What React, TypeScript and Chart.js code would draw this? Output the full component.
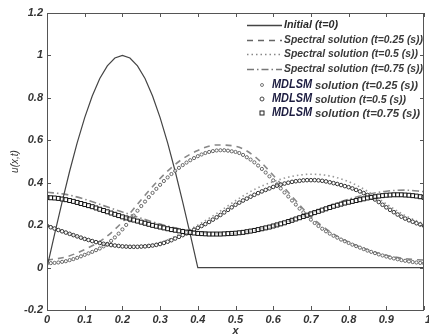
import React, { useEffect, useRef } from "react";
import { Chart, registerables } from "chart.js";

Chart.register(...registerables);

// Sampling grid for the MDLSM markers (x = 0 .. 1, step 0.01)
const xGrid: number[] = Array.from({ length: 101 }, (_, i) => i / 100);
// Grid for spectral curves (step 0.05)
const xCoarse: number[] = Array.from({ length: 21 }, (_, i) => i / 20);

const initialX = [0, 0.02, 0.04, 0.06, 0.08, 0.1, 0.12, 0.14, 0.16, 0.18, 0.2, 0.22, 0.24, 0.26, 0.28, 0.3, 0.32, 0.34, 0.36, 0.38, 0.4, 1.0];
const initialU = [0, 0.156, 0.309, 0.454, 0.588, 0.707, 0.809, 0.891, 0.951, 0.988, 1, 0.988, 0.951, 0.891, 0.809, 0.707, 0.588, 0.454, 0.309, 0.156, 0, 0];

const spectral025 = [0.035, 0.05, 0.085, 0.135, 0.215, 0.32, 0.42, 0.5, 0.552, 0.578, 0.572, 0.525, 0.435, 0.335, 0.24, 0.17, 0.12, 0.085, 0.058, 0.042, 0.035];
const spectral05 = [0.2, 0.165, 0.135, 0.112, 0.102, 0.102, 0.118, 0.155, 0.2, 0.255, 0.315, 0.368, 0.405, 0.43, 0.44, 0.432, 0.405, 0.36, 0.3, 0.245, 0.205];
const spectral075 = [0.355, 0.345, 0.322, 0.292, 0.262, 0.232, 0.205, 0.183, 0.168, 0.16, 0.162, 0.175, 0.196, 0.225, 0.258, 0.292, 0.322, 0.345, 0.36, 0.365, 0.358];

const mdlsm025 = [
  0.02, 0.021, 0.022, 0.024, 0.027, 0.03, 0.035, 0.04, 0.046, 0.053,
  0.06, 0.067, 0.074, 0.082, 0.09, 0.1, 0.112, 0.126, 0.142, 0.16,
  0.18, 0.201, 0.223, 0.245, 0.268, 0.29, 0.311, 0.332, 0.352, 0.371,
  0.39, 0.408, 0.425, 0.441, 0.456, 0.47, 0.483, 0.495, 0.506, 0.516,
  0.525, 0.533, 0.54, 0.545, 0.549, 0.552, 0.553, 0.553, 0.551, 0.548,
  0.545, 0.54, 0.531, 0.52, 0.509, 0.496, 0.481, 0.465, 0.448, 0.43,
  0.411, 0.392, 0.373, 0.354, 0.335, 0.316, 0.297, 0.278, 0.26, 0.243,
  0.226, 0.21, 0.196, 0.183, 0.171, 0.16, 0.15, 0.141, 0.132, 0.124,
  0.116, 0.108, 0.101, 0.094, 0.087, 0.08, 0.074, 0.068, 0.062, 0.057,
  0.052, 0.047, 0.043, 0.039, 0.035, 0.032, 0.029, 0.026, 0.024, 0.022,
  0.02,
];
const mdlsm05 = [
  0.197, 0.19, 0.184, 0.177, 0.171, 0.165, 0.159, 0.153, 0.147, 0.141,
  0.135, 0.13, 0.125, 0.12, 0.116, 0.112, 0.109, 0.106, 0.104, 0.102,
  0.1, 0.099, 0.098, 0.098, 0.098, 0.099, 0.1, 0.102, 0.104, 0.107,
  0.111, 0.116, 0.122, 0.129, 0.137, 0.145, 0.153, 0.161, 0.169, 0.178,
  0.187, 0.196, 0.205, 0.215, 0.226, 0.237, 0.248, 0.26, 0.272, 0.284,
  0.296, 0.306, 0.316, 0.325, 0.334, 0.343, 0.351, 0.359, 0.366, 0.373,
  0.38, 0.386, 0.391, 0.396, 0.4, 0.404, 0.407, 0.409, 0.411, 0.412,
  0.412, 0.412, 0.411, 0.409, 0.406, 0.402, 0.398, 0.394, 0.389, 0.384,
  0.379, 0.373, 0.366, 0.359, 0.351, 0.342, 0.332, 0.321, 0.309, 0.296,
  0.284, 0.272, 0.261, 0.25, 0.24, 0.231, 0.223, 0.216, 0.209, 0.203,
  0.197,
];
const mdlsm075 = [
  0.33, 0.329, 0.328, 0.326, 0.323, 0.32, 0.316, 0.312, 0.307, 0.302,
  0.297, 0.292, 0.287, 0.281, 0.275, 0.269, 0.263, 0.257, 0.251, 0.245,
  0.239, 0.234, 0.229, 0.224, 0.219, 0.214, 0.209, 0.204, 0.199, 0.195,
  0.191, 0.187, 0.183, 0.179, 0.176, 0.173, 0.17, 0.167, 0.165, 0.163,
  0.161, 0.16, 0.159, 0.158, 0.158, 0.158, 0.158, 0.159, 0.16, 0.161,
  0.162, 0.164, 0.166, 0.169, 0.172, 0.175, 0.179, 0.183, 0.187, 0.191,
  0.196, 0.201, 0.206, 0.211, 0.217, 0.223, 0.229, 0.235, 0.241, 0.247,
  0.253, 0.259, 0.265, 0.271, 0.277, 0.283, 0.289, 0.294, 0.299, 0.304,
  0.308, 0.312, 0.316, 0.32, 0.324, 0.328, 0.331, 0.334, 0.337, 0.339,
  0.341, 0.342, 0.343, 0.343, 0.343, 0.342, 0.341, 0.339, 0.337, 0.334,
  0.331,
];

const xTickLabels = ["0", "0.1", "0.2", "0.3", "0.4", "0.5", "0.6", "0.7", "0.8", "0.9", "1"];
const yTickLabels = ["-0.2", "0", "0.2", "0.4", "0.6", "0.8", "1", "1.2"];

const legendLines = [
  { text: "Initial (t=0)", dash: [] as number[], color: "#444", w: 54 },
  { text: "Spectral solution (t=0.25 (s))", dash: [6, 5], color: "#666", w: 139 },
  { text: "Spectral solution (t=0.5 (s))", dash: [1.5, 3], color: "#888", w: 134 },
  { text: "Spectral solution (t=0.75 (s))", dash: [7, 3, 1.5, 3], color: "#777", w: 139 },
];
const legendMarkers = [
  { text: "solution (t=0.25 (s))", marker: "dot", w: 103 },
  { text: "solution (t=0.5 (s))", marker: "circle", w: 91 },
  { text: "solution (t=0.75 (s))", marker: "square", w: 105 },
];

const pts = (xs: number[], ys: number[]) => xs.map((x, i) => ({ x, y: ys[i] }));

const FONT = '"Liberation Sans", Arial, sans-serif';

function fitText(ctx: CanvasRenderingContext2D, text: string, x: number, y: number, width: number) {
  const m = ctx.measureText(text).width;
  ctx.save();
  ctx.translate(x, y);
  ctx.scale(width / m, 1);
  ctx.fillText(text, 0, 0);
  ctx.restore();
}

const framePlugin = {
  id: "frame",
  afterDraw(chart: any) {
    const ctx = chart.ctx;
    const { left, right, top, bottom } = chart.chartArea;
    const xs = chart.scales.x;
    const ys = chart.scales.y;
    ctx.save();
    // frame
    ctx.strokeStyle = "#555";
    ctx.lineWidth = 1;
    ctx.setLineDash([]);
    ctx.strokeRect(left + 0.5, top + 0.5, right - left - 1, bottom - top);
    // inward ticks
    ctx.beginPath();
    for (let i = 0; i < xTickLabels.length; i++) {
      const px = Math.round(xs.getPixelForValue(i / 10)) + 0.5;
      ctx.moveTo(px, bottom);
      ctx.lineTo(px, bottom - 4);
      ctx.moveTo(px, top);
      ctx.lineTo(px, top + 4);
    }
    for (let i = 0; i < yTickLabels.length; i++) {
      const py = Math.round(ys.getPixelForValue(-0.2 + i * 0.2)) + 0.5;
      ctx.moveTo(left, py);
      ctx.lineTo(left + 4, py);
      ctx.moveTo(right, py);
      ctx.lineTo(right - 4, py);
    }
    ctx.stroke();
    // tick labels
    ctx.fillStyle = "#333";
    ctx.font = `italic bold 11px ${FONT}`;
    ctx.textAlign = "center";
    ctx.textBaseline = "middle";
    xTickLabels.forEach((t, i) => {
      ctx.fillText(t, xs.getPixelForValue(i / 10) + (i === 10 ? 4 : 0), bottom + 10);
    });
    ctx.textAlign = "right";
    yTickLabels.forEach((t, i) => {
      ctx.fillText(t, left - 4, ys.getPixelForValue(-0.2 + i * 0.2));
    });
    // axis titles
    ctx.textAlign = "center";
    ctx.fillText("x", (left + right) / 2, bottom + 21);
    ctx.save();
    ctx.translate(15, (top + bottom) / 2);
    ctx.rotate(-Math.PI / 2);
    ctx.font = `italic 10px ${FONT}`;
    ctx.fillText("u(x,t)", 0, 0);
    ctx.restore();

    // legend
    const lx0 = 247;
    const lx1 = 282;
    const rowsY = [25, 40, 54, 69, 85, 99, 113];
    ctx.textAlign = "left";
    legendLines.forEach((l, i) => {
      const y = rowsY[i];
      ctx.strokeStyle = l.color;
      ctx.lineWidth = 1.4;
      ctx.setLineDash(l.dash);
      ctx.beginPath();
      ctx.moveTo(lx0, y + 0.5);
      ctx.lineTo(lx1, y + 0.5);
      ctx.stroke();
      ctx.setLineDash([]);
      ctx.fillStyle = i === 0 ? "#2a2a2a" : "#3a3a3a";
      ctx.font = `italic bold 11px ${FONT}`;
      fitText(ctx, l.text, 284, y, l.w);
    });
    legendMarkers.forEach((m, i) => {
      const y = rowsY[4 + i];
      const mx = 262;
      ctx.lineWidth = 1;
      if (m.marker === "dot") {
        ctx.strokeStyle = "#777";
        ctx.beginPath();
        ctx.arc(mx, y, 1.5, 0, Math.PI * 2);
        ctx.stroke();
      } else if (m.marker === "circle") {
        ctx.strokeStyle = "#444";
        ctx.beginPath();
        ctx.arc(mx, y, 2, 0, Math.PI * 2);
        ctx.stroke();
      } else {
        ctx.strokeStyle = "#222";
        ctx.strokeRect(mx - 2, y - 2, 4, 4);
      }
      ctx.fillStyle = "#1c1c40";
      ctx.font = `italic bold 12px ${FONT}`;
      fitText(ctx, "MDLSM", 272, y, 40);
      ctx.fillStyle = "#3a3a3a";
      ctx.font = `italic bold 11px ${FONT}`;
      fitText(ctx, m.text, 315, y + 1, m.w);
    });
    ctx.restore();
  },
};

export default function App() {
  const ref = useRef<HTMLCanvasElement>(null);
  useEffect(() => {
    document.body.style.margin = "0";
    const canvas = ref.current!;
    const chart = new Chart(canvas, {
      type: "scatter",
      data: {
        datasets: [
          {
            label: "MDLSM t=0.75",
            data: pts(xGrid, mdlsm075),
            showLine: false,
            pointStyle: "rect",
            pointRadius: 2.8,
            borderWidth: 1,
            borderColor: "#111",
            backgroundColor: "rgba(255,255,255,0.6)",
          },
          {
            label: "MDLSM t=0.5",
            data: pts(xGrid, mdlsm05),
            showLine: false,
            pointStyle: "circle",
            pointRadius: 1.8,
            borderWidth: 1,
            borderColor: "#333",
            backgroundColor: "rgba(255,255,255,0.6)",
          },
          {
            label: "MDLSM t=0.25",
            data: pts(xGrid, mdlsm025),
            showLine: false,
            pointStyle: "circle",
            pointRadius: 1.6,
            borderWidth: 1,
            borderColor: "#666",
            backgroundColor: "rgba(255,255,255,0.6)",
          },
          {
            label: "Initial (t=0)",
            data: pts(initialX, initialU),
            showLine: true,
            pointRadius: 0,
            borderColor: "#444",
            borderWidth: 1.2,
            tension: 0,
          },
          {
            label: "Spectral t=0.25",
            data: pts(xCoarse, spectral025),
            showLine: true,
            pointRadius: 0,
            borderColor: "#888",
            borderWidth: 1.6,
            borderDash: [6, 5],
            cubicInterpolationMode: "monotone",
          },
          {
            label: "Spectral t=0.5",
            data: pts(xCoarse, spectral05),
            showLine: true,
            pointRadius: 0,
            borderColor: "#999",
            borderWidth: 1.6,
            borderDash: [1.5, 3],
            cubicInterpolationMode: "monotone",
          },
          {
            label: "Spectral t=0.75",
            data: pts(xCoarse, spectral075),
            showLine: true,
            pointRadius: 0,
            borderColor: "#888",
            borderWidth: 1.6,
            borderDash: [7, 3, 1.5, 3],
            cubicInterpolationMode: "monotone",
          },
        ] as any,
      },
      options: {
        animation: false,
        responsive: false,
        devicePixelRatio: 1,
        layout: { padding: { left: 47, top: 13, right: 1, bottom: 24 } },
        plugins: { legend: { display: false }, tooltip: { enabled: false } },
        scales: {
          x: {
            type: "linear",
            min: 0,
            max: 1,
            grid: { display: false },
            border: { display: false },
            ticks: { display: false },
            afterFit: (s: any) => { s.height = 0; },
          },
          y: {
            type: "linear",
            min: -0.2,
            max: 1.2,
            grid: { display: false },
            border: { display: false },
            ticks: { display: false },
            afterFit: (s: any) => { s.width = 0; },
          },
        },
      } as any,
      plugins: [framePlugin],
    });
    return () => chart.destroy();
  }, []);
  return <canvas ref={ref} width={429} height={334} style={{ display: "block" }} />;
}
